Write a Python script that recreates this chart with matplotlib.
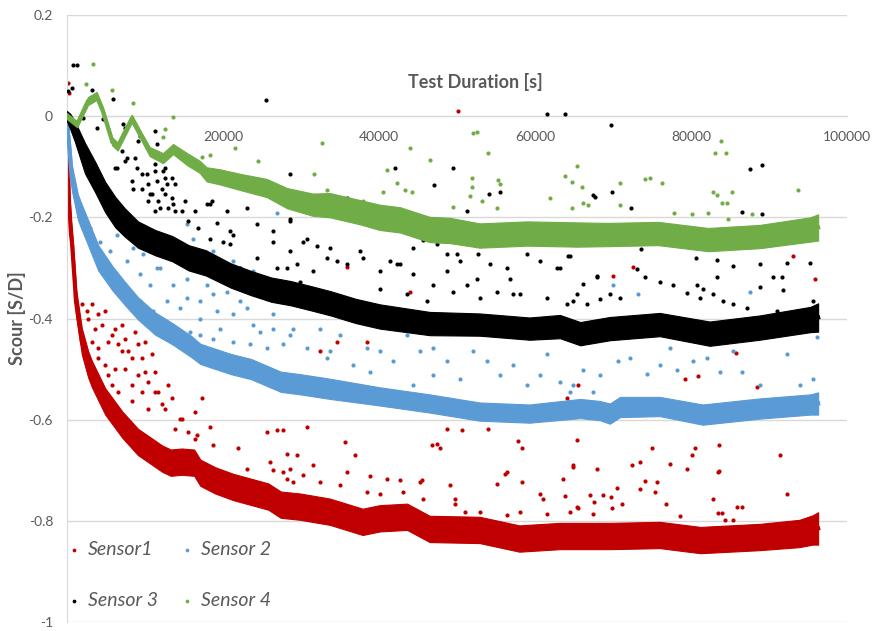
import numpy as np
import matplotlib.pyplot as plt

plt.rcParams['font.family'] = ['Lato', 'DejaVu Sans']

# dense band of each sensor: time [s], centre [S/D], half thickness
s1_t = [0, 130, 260, 380, 510, 640, 1000, 1150, 1900, 2700, 3200, 4900, 7100, 9100, 12200, 13300,
        14700, 16300, 17100, 19000, 21300, 25800, 27400, 29900, 33700, 37900, 40100, 43600, 46500,
        52900, 58000, 63200, 69600, 76000, 81200, 88800, 93900, 95600, 96300]
s1_c = [0, -0.1, -0.17, -0.2, -0.233, -0.25, -0.33, -0.366, -0.445, -0.49, -0.51, -0.564, -0.61,
        -0.644, -0.677, -0.685, -0.683, -0.685, -0.705, -0.72, -0.733, -0.752, -0.768, -0.772,
        -0.782, -0.802, -0.795, -0.792, -0.816, -0.818, -0.835, -0.83, -0.83, -0.828, -0.838,
        -0.832, -0.825, -0.818, -0.815]
s1_hw = [0.01, 0.02, 0.025, 0.026, 0.026, 0.026, 0.026, 0.026, 0.026, 0.026, 0.026, 0.026, 0.026,
         0.026, 0.026, 0.026, 0.026, 0.026, 0.026, 0.026, 0.026, 0.026, 0.026, 0.026, 0.026, 0.026,
         0.026, 0.026, 0.026, 0.026, 0.026, 0.026, 0.026, 0.026, 0.026, 0.026, 0.027, 0.029, 0.032]

s2_t = [0, 100, 400, 600, 1000, 1400, 1900, 2700, 4000, 5800, 7400, 9100, 11300, 13500, 15900,
        17100, 21000, 23600, 27400, 29900, 33700, 40100, 46500, 52900, 59300, 65800, 68300, 69600,
        70900, 76000, 81500, 88800, 95300, 96300]
s2_c = [0, -0.03, -0.08, -0.12, -0.15, -0.18, -0.2, -0.23, -0.28, -0.32, -0.35, -0.38, -0.41, -0.43,
        -0.455, -0.47, -0.49, -0.5, -0.525, -0.53, -0.539, -0.554, -0.568, -0.584, -0.588, -0.578,
        -0.582, -0.588, -0.575, -0.574, -0.59, -0.578, -0.57, -0.568]
s2_hw = [0.01, 0.02, 0.025, 0.025, 0.025, 0.025, 0.025, 0.025, 0.025, 0.024, 0.023, 0.022, 0.022,
         0.021, 0.021, 0.02, 0.02, 0.02, 0.02, 0.02, 0.02, 0.018, 0.018, 0.018, 0.018, 0.019, 0.019,
         0.02, 0.02, 0.019, 0.02, 0.02, 0.02, 0.022]

s3_t = [0, 400, 1000, 2300, 3600, 4900, 6200, 7400, 9100, 11300, 13500, 15600, 17800, 21000, 23600,
        26200, 28700, 31300, 33800, 37000, 40100, 46500, 52900, 59300, 63200, 65800, 69600, 76000,
        82400, 88800, 95300, 96300]
s3_c = [0, -0.01, -0.03, -0.083, -0.12, -0.16, -0.19, -0.21, -0.234, -0.25, -0.262, -0.28, -0.29,
        -0.315, -0.33, -0.343, -0.35, -0.36, -0.37, -0.385, -0.396, -0.41, -0.412, -0.42, -0.416,
        -0.43, -0.42, -0.412, -0.43, -0.418, -0.402, -0.398]
s3_hw = [0.01, 0.015, 0.02, 0.03, 0.03, 0.03, 0.03, 0.028, 0.026, 0.025, 0.025, 0.025, 0.025, 0.024,
         0.024, 0.024, 0.024, 0.024, 0.024, 0.024, 0.024, 0.023, 0.022, 0.022, 0.023, 0.023, 0.023,
         0.023, 0.024, 0.024, 0.025, 0.028]

s4_t = [0, 1300, 2700, 3800, 4600, 5800, 6500, 8300, 9400, 10600, 12300, 13600, 15400, 17000, 17900,
        19600, 22200, 25600, 28200, 31500, 33700, 37600, 40100, 42700, 46500, 49100, 52900, 59000,
        65400, 69300, 75800, 82200, 88800, 95300, 96300]
s4_c = [0, -0.016, 0.03, 0.04, 0.01, -0.05, -0.06, -0.005, -0.036, -0.07, -0.083, -0.065, -0.085,
        -0.1, -0.115, -0.12, -0.13, -0.142, -0.162, -0.175, -0.176, -0.19, -0.2, -0.205, -0.224,
        -0.226, -0.236, -0.232, -0.234, -0.234, -0.232, -0.244, -0.238, -0.224, -0.22]
s4_hw = [0.006, 0.006, 0.008, 0.008, 0.008, 0.008, 0.008, 0.008, 0.008, 0.009, 0.01, 0.01, 0.012,
         0.012, 0.014, 0.015, 0.016, 0.018, 0.02, 0.022, 0.024, 0.024, 0.025, 0.025, 0.025, 0.025,
         0.024, 0.024, 0.024, 0.023, 0.023, 0.023, 0.023, 0.024, 0.026]

# single readings lying away from the bands (time [s], scour [S/D])
s1_pts = [(100, 0.065), (200, 0.045), (2700, -0.4), (3600, -0.42), (4900, -0.386), (5800, -0.432),
          (7100, -0.412), (7800, -0.465), (8700, -0.426), (9600, -0.479), (10900, -0.471),
          (9100, -0.511), (11300, -0.545), (12200, -0.57), (12900, -0.531), (14700, -0.598),
          (17300, -0.558), (16400, -0.638), (10000, -0.446), (4000, -0.479), (5300, -0.511),
          (6500, -0.545), (8300, -0.564), (10400, -0.578), (7100, -0.465), (8300, -0.531),
          (6200, -0.499), (14500, -0.598), (16700, -0.63), (18300, -0.614), (18700, -0.65),
          (21900, -0.657), (25600, -0.624), (26900, -0.62), (27700, -0.62), (26000, -0.683),
          (26400, -0.699), (28200, -0.667), (29500, -0.669), (27700, -0.703), (29000, -0.723),
          (23100, -0.697), (30800, -0.614), (35600, -0.644), (36900, -0.669), (48700, -0.618),
          (50600, -0.62), (54000, -0.618), (46800, -0.65), (47400, -0.648), (47800, -0.657),
          (57800, -0.642), (58300, -0.657), (65400, -0.64), (28600, -0.697), (31500, -0.689),
          (35900, -0.703), (41000, -0.717), (45300, -0.723), (49100, -0.729), (56400, -0.703),
          (63600, -0.717), (64900, -0.689), (35900, -0.299), (44000, -0.347), (32400, -0.465),
          (34600, -0.446), (38500, -0.446), (28200, -0.717), (30300, -0.709), (32400, -0.723),
          (38800, -0.711), (42700, -0.719), (45500, -0.719), (56200, -0.707), (58300, -0.723),
          (55100, -0.727), (35000, -0.729), (38500, -0.743), (40100, -0.747), (43100, -0.743),
          (45600, -0.756), (49700, -0.756), (49700, -0.766), (51000, -0.782), (52900, -0.782),
          (56400, -0.788), (58100, -0.782), (60600, -0.747), (61000, -0.756), (61500, -0.786),
          (63800, -0.75), (64500, -0.782), (65400, -0.772), (67100, -0.749), (68700, -0.749),
          (69700, -0.752), (70500, -0.735), (67600, -0.762), (69900, -0.774), (71200, -0.766),
          (74100, -0.721), (75600, -0.723), (75400, -0.743), (76800, -0.766), (82800, -0.756),
          (83500, -0.784), (84000, -0.784), (85900, -0.772), (86500, -0.772), (92300, -0.747),
          (65500, -0.774), (67400, -0.786), (78600, -0.79), (84400, -0.798), (85400, -0.798),
          (83500, -0.703), (64900, -0.693), (67900, -0.697), (72400, -0.689), (73500, -0.683),
          (75000, -0.657), (77300, -0.687), (79500, -0.697), (80500, -0.657), (80100, -0.669),
          (83600, -0.65), (83600, -0.701), (91400, -0.669), (73500, -0.737), (70000, -0.315),
          (72600, -0.299), (93100, -0.277), (95900, -0.321), (79200, -0.519), (80900, -0.513),
          (88500, -0.535), (85800, -0.469), (65500, -0.531), (64100, -0.558), (50100, 0.01),
          (1900, -0.372), (2600, -0.386), (3200, -0.372), (4000, -0.392), (4500, -0.412),
          (3200, -0.446), (4000, -0.459), (5300, -0.446), (6200, -0.42), (6500, -0.451),
          (7400, -0.44), (4900, -0.491), (5800, -0.531), (7400, -0.499), (9100, -0.451),
          (9600, -0.545), (10400, -0.525), (11300, -0.505), (11700, -0.545), (12600, -0.578),
          (13500, -0.558), (13800, -0.618), (15500, -0.624), (16400, -0.584), (8300, -0.479),
          (10000, -0.505)]

s2_pts = [(2600, -0.234), (3300, -0.267), (5100, -0.293), (6400, -0.321), (7700, -0.341),
          (9400, -0.366), (11000, -0.386), (12800, -0.412), (14100, -0.42), (15800, -0.426),
          (17100, -0.432), (18700, -0.44), (21300, -0.446), (23500, -0.451), (25600, -0.459),
          (27700, -0.451), (9700, -0.273), (11500, -0.301), (13600, -0.333), (15400, -0.36),
          (17100, -0.366), (19200, -0.386), (21300, -0.392), (23800, -0.412), (26900, -0.192),
          (15400, -0.214), (16200, -0.242), (12800, -0.261), (17900, -0.333), (20500, -0.347),
          (22200, -0.366), (24700, -0.426), (26400, -0.42), (28600, -0.432), (30800, -0.459),
          (32400, -0.42), (33700, -0.465), (35000, -0.432), (36700, -0.491), (38500, -0.459),
          (40100, -0.465), (41800, -0.485), (43600, -0.432), (45300, -0.465), (46900, -0.511),
          (48700, -0.485), (50400, -0.519), (52000, -0.465), (53800, -0.485), (55500, -0.511),
          (57200, -0.491), (59000, -0.531), (60600, -0.511), (61500, -0.471), (63200, -0.525),
          (64500, -0.545), (33300, -0.479), (38800, -0.505), (44400, -0.531), (46900, -0.459),
          (66200, -0.501), (68300, -0.511), (70600, -0.485), (72200, -0.479), (74400, -0.509),
          (76000, -0.491), (77300, -0.459), (78200, -0.501), (80300, -0.485), (82100, -0.479),
          (83700, -0.505), (85400, -0.465), (86500, -0.505), (87600, -0.347), (88800, -0.531),
          (92300, -0.471), (94000, -0.531), (95600, -0.519), (70000, -0.333), (73200, -0.352),
          (96200, -0.436), (67400, -0.545), (64900, -0.531),
          (2100, -0.202), (2900, -0.222), (4200, -0.248), (5500, -0.267), (6400, -0.234),
          (7700, -0.287), (8500, -0.261), (9400, -0.313), (10600, -0.333), (11900, -0.301),
          (12800, -0.366), (14500, -0.38), (15400, -0.321), (17100, -0.4), (18700, -0.352),
          (19600, -0.42), (21300, -0.333), (23100, -0.38), (24700, -0.352), (26400, -0.392),
          (28200, -0.366), (29000, -0.42), (18700, -0.267), (21300, -0.287), (23800, -0.307)]

s3_pts = [(800, 0.101), (1300, 0.101), (25500, 0.032), (100, 0.05), (600, 0.055), (3200, 0.051),
          (2100, -0.004), (3900, -0.024), (4600, -0.006), (5900, 0.034), (7200, -0.016),
          (7400, -0.024), (9400, -0.04), (11300, -0.03), (11500, -0.055), (12300, -0.109),
          (11500, -0.129), (10300, -0.115), (9000, -0.103), (7700, -0.083), (6400, -0.103),
          (8500, -0.143), (10600, -0.154), (12800, -0.135), (13600, -0.174), (11900, -0.182),
          (17900, -0.174), (18600, -0.168), (28600, -0.115), (20500, -0.188), (23100, -0.182),
          (42100, -0.103), (49500, -0.103), (47100, -0.137), (54100, -0.154), (55500, -0.149),
          (61500, 0.004), (63800, 0.004), (51300, -0.188), (35400, -0.162), (35900, -0.162),
          (28600, -0.204), (30800, -0.242), (32100, -0.257), (33700, -0.261), (37600, -0.267),
          (37900, -0.281), (41400, -0.287), (42700, -0.293), (44400, -0.261), (45600, -0.244),
          (47400, -0.253), (48700, -0.273), (50400, -0.287), (52700, -0.273), (54200, -0.293),
          (56400, -0.301), (59000, -0.273), (60600, -0.287), (62800, -0.301), (64500, -0.277),
          (40100, -0.307), (34600, -0.287), (69700, -0.018), (87600, -0.105), (89100, -0.097),
          (67400, -0.156), (67700, -0.16), (69900, -0.149), (72300, -0.182), (86500, -0.19),
          (89100, -0.194), (89700, -0.222), (90400, -0.22), (64200, -0.277), (73600, -0.263),
          (80600, -0.281), (83300, -0.285), (88800, -0.293), (92300, -0.291), (95300, -0.291),
          (68000, -0.315), (33300, -0.281), (35900, -0.293), (42300, -0.293), (44400, -0.313),
          (46900, -0.333), (48700, -0.307), (50000, -0.273), (51300, -0.333), (52600, -0.321),
          (55100, -0.347), (56800, -0.321), (58100, -0.352), (61500, -0.36), (63200, -0.301),
          (64100, -0.372), (65400, -0.352), (40100, -0.341), (43600, -0.352), (46200, -0.366),
          (49500, -0.347), (53000, -0.36), (57200, -0.352), (31500, -0.307), (29900, -0.327),
          (73100, -0.303), (74100, -0.317), (76000, -0.327), (77700, -0.333), (80800, -0.333),
          (81500, -0.341), (83300, -0.317), (85400, -0.297), (90500, -0.317), (91700, -0.317),
          (88800, -0.337), (91800, -0.343), (64900, -0.366), (66700, -0.372), (68300, -0.362),
          (69600, -0.352), (70900, -0.36), (79500, -0.35), (81200, -0.36), (82800, -0.352),
          (84100, -0.366), (85400, -0.372), (87200, -0.38), (91000, -0.386), (95600, -0.366),
          (67900, -0.317), (66200, -0.331), (18300, -0.242), (21300, -0.234), (24400, -0.214),
          (26400, -0.248), (28600, -0.267), (28200, -0.301), (24400, -0.281), (22200, -0.301),
          (20900, -0.253), (19200, -0.212), (20900, -0.228), (26400, -0.228), (28600, -0.208),
          (30300, -0.248), (20000, -0.248), (26900, -0.301), (29500, -0.293), (18300, -0.174),
          (6200, -0.103), (7400, -0.089), (8300, -0.129), (9600, -0.115), (10400, -0.135),
          (11300, -0.109), (12200, -0.143), (12600, -0.123), (10400, -0.168), (13500, -0.162),
          (14700, -0.188), (11300, -0.188), (13800, -0.135),
          (5800, -0.05), (7100, -0.069), (8700, -0.083), (9600, -0.143), (10900, -0.154),
          (11700, -0.168), (12600, -0.154), (12900, -0.182), (13800, -0.188), (15100, -0.168),
          (15500, -0.208), (16400, -0.188), (16800, -0.222), (9100, -0.05), (10900, -0.069),
          (11300, -0.095), (12600, -0.103), (13500, -0.123)]

s4_pts = [(3300, 0.103), (2400, 0.063), (5800, 0.051), (8500, 0.026), (13600, -0.002),
          (12300, -0.042), (12600, -0.026), (17300, -0.081), (18300, -0.077), (21500, -0.063),
          (24500, -0.089), (32700, -0.053), (31700, -0.115), (41000, -0.107), (44000, -0.063),
          (46500, -0.087), (52000, -0.034), (52600, -0.032), (54000, -0.073), (51900, -0.123),
          (51900, -0.141), (55300, -0.127), (55500, -0.135), (61900, -0.162), (63800, -0.119),
          (65400, -0.099), (64700, -0.182), (42300, -0.133), (43300, -0.145), (44200, -0.149),
          (40500, -0.149), (37900, -0.168), (49500, -0.18), (51700, -0.158), (53200, -0.168),
          (55100, -0.182), (33300, -0.145), (66000, -0.141), (64700, -0.131), (66200, -0.172),
          (66800, -0.176), (70900, -0.133), (70900, -0.176), (74100, -0.125), (74700, -0.123),
          (76300, -0.133), (77800, -0.192), (80100, -0.194), (82200, -0.192), (82800, -0.149),
          (83300, -0.156), (84000, -0.172), (84600, -0.172), (85300, -0.15), (83100, -0.073),
          (84500, -0.073), (83800, -0.05), (93700, -0.145), (87800, -0.194), (84700, -0.204)]

labels = ['Sensor1', 'Sensor 2', 'Sensor 3', 'Sensor 4']
colors = ['#c00000', '#5b9bd5', '#000000', '#70ad47']
y_ticks = [-1, -0.8, -0.6, -0.4, -0.2, 0, 0.2]
y_ticklabels = ['-1', '-0.8', '-0.6', '-0.4', '-0.2', '0', '0.2']
x_ticks = [20000, 40000, 60000, 80000, 100000]

fig = plt.figure(figsize=(8.73, 6.31), dpi=100)
ax = fig.add_axes([67 / 873, 9 / 631, 780 / 873, 607 / 631])

bands = [(s1_t, s1_c, s1_hw, s1_pts), (s2_t, s2_c, s2_hw, s2_pts),
         (s3_t, s3_c, s3_hw, s3_pts), (s4_t, s4_c, s4_hw, s4_pts)]
handles = []
for i, (t, c, hw, pts) in enumerate(bands):
    t = np.array(t)
    c = np.array(c)
    hw = np.array(hw)
    col = colors[i]
    ax.fill_between(t, c - hw, c + hw, color=col, lw=0.8, edgecolor=col, zorder=2 + i)
    ax.plot(t, c, color=col, lw=3, zorder=2 + i)
    pt, pv = zip(*pts)
    h = ax.scatter(pt, pv, s=9, color=col, linewidths=0, zorder=2 + i, label=labels[i])
    handles.append(h)

ax.set_xlim(0, 100000)
ax.set_ylim(-1, 0.2)
ax.set_yticks(y_ticks)
ax.set_yticklabels(y_ticklabels)
ax.set_xticks(x_ticks)
ax.set_xticklabels([str(x) for x in x_ticks])
ax.tick_params(length=0, labelsize=10, labelcolor='#595959')
ax.tick_params(axis='y', pad=10)
ax.tick_params(axis='x', pad=11)

ax.yaxis.grid(True, color='#d9d9d9', lw=1)
ax.set_axisbelow(True)
for side in ['top', 'right']:
    ax.spines[side].set_visible(False)
ax.spines['bottom'].set_position(('data', 0))
ax.spines['bottom'].set_color('#d9d9d9')
ax.spines['left'].set_color('#d9d9d9')

ax.text(0.523, 0.889, 'Test Duration [s]', transform=ax.transAxes, ha='center', va='center',
        fontsize=13, fontweight='bold', color='#595959')
ax.set_ylabel('Scour [S/D]', fontsize=13, fontweight='bold', color='#595959')
ax.yaxis.set_label_coords(-0.052, 0.5)

leg = ax.legend([handles[0], handles[2], handles[1], handles[3]],
                [labels[0], labels[2], labels[1], labels[3]],
                ncol=2, loc='lower left', bbox_to_anchor=(-0.018, -0.008), frameon=False,
                markerscale=0.9, handlelength=0.4, handletextpad=0.5, columnspacing=1.3,
                labelspacing=1.75, prop={'style': 'italic', 'size': 14})
for txt in leg.get_texts():
    txt.set_color('#595959')

fig.savefig('out.png', dpi=100, facecolor='white')
